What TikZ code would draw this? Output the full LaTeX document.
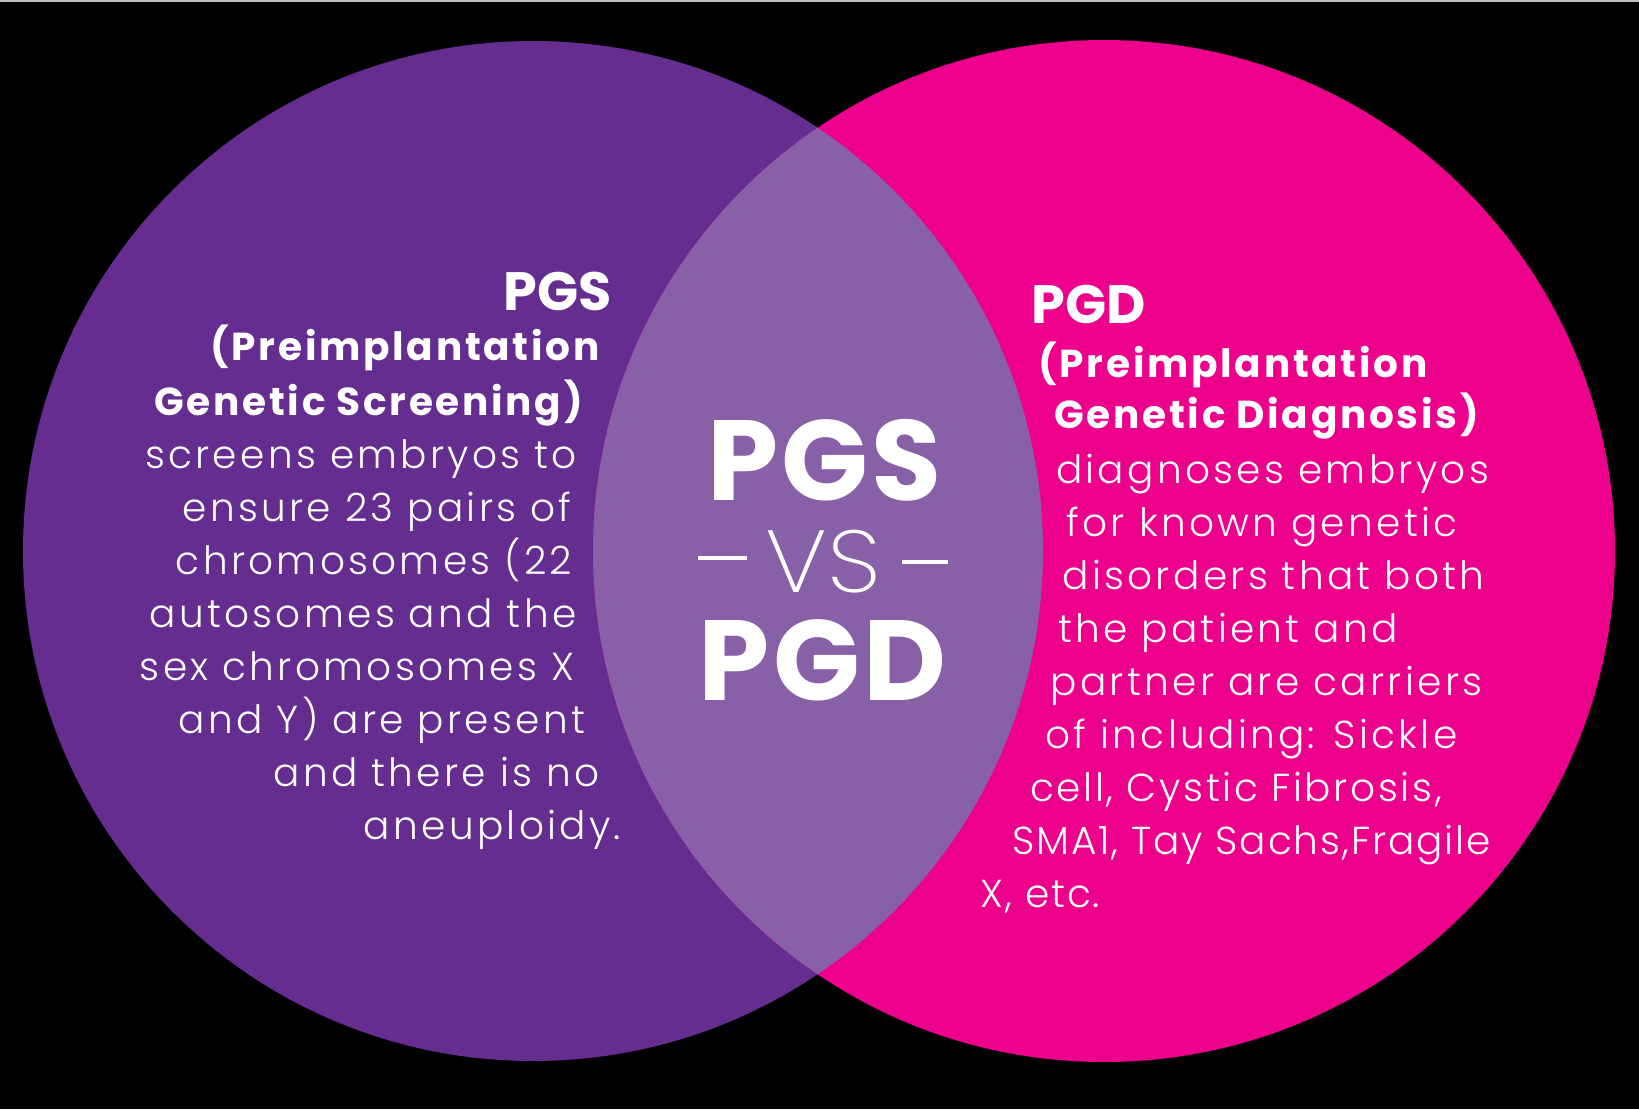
\documentclass[tikz,border=0pt]{standalone}
\usepackage{fontspec}
\setmainfont{Poppins}
\newfontfamily\bodyfont{Poppins Light}[LetterSpace=8.5]
\newfontfamily\tightfont{Poppins Light}[LetterSpace=5]
\newfontfamily\midfont{Poppins Light}[LetterSpace=6.8]
\newfontfamily\headfont{Poppins}[LetterSpace=7]
\newfontfamily\bigfont{Poppins}[LetterSpace=3]
\newfontfamily\vsfont{Poppins ExtraLight}[FakeStretch=1.1]
\definecolor{pgspurple}{HTML}{652D90}
\definecolor{pgdpink}{HTML}{EC008C}
\definecolor{overlapcol}{HTML}{8760A8}
\tikzset{
  bodytxt/.style={font=\bodyfont\fontsize{19.5}{22}\selectfont, text=white, inner sep=0pt, anchor=base},
  tighttxt/.style={font=\tightfont\fontsize{19.5}{22}\selectfont, text=white, inner sep=0pt, anchor=base},
  midtxt/.style={font=\midfont\fontsize{19.5}{22}\selectfont, text=white, inner sep=0pt, anchor=base},
  headtxt/.style={font=\headfont\bfseries\fontsize{19.5}{22}\selectfont, text=white, inner sep=0pt, anchor=base},
  titletxt/.style={font=\bfseries\fontsize{27}{30}\selectfont, text=white, inner sep=0pt, anchor=base},
  bigtxt/.style={font=\bigfont\bfseries\fontsize{57}{60}\selectfont, text=white, inner sep=0pt, anchor=base},
  vstxt/.style={font=\vsfont\fontsize{44}{46}\selectfont, text=white, inner sep=0pt, anchor=base},
  dashline/.style={white, line width=2pt}
}
\begin{document}
\begin{tikzpicture}[x=0.5pt, y=-0.5pt]
\useasboundingbox (0,0) rectangle (1639,1109);
\fill[black] (0,0) rectangle (1639,1109);
\draw[white!75!black, line width=1.5pt] (0,0.75) -- (1639,0.75);
% circles
\coordinate (cl) at (533,551);
\coordinate (cr) at (1104,551);
\fill[pgspurple] (cl) circle[radius=255pt];
\fill[pgdpink] (cr) circle[radius=255.5pt];
\begin{scope}
  \clip (cl) circle[radius=255pt];
  \fill[overlapcol] (cr) circle[radius=255.5pt];
\end{scope}
% left text
\node[titletxt] (lt) at (557.5,310) {PGS};
\node[headtxt] (l1) at (405,360) {(Preimplantation};
\node[headtxt] (l2) at (368.5,415) {Genetic Screening)};
\node[bodytxt] (l3) at (361,468) {screens embryos to};
\node[bodytxt] (l4) at (377,521) {ensure 23 pairs of};
\node[bodytxt] (l5) at (374,574) {chromosomes (22};
\node[bodytxt] (l6) at (363,627) {autosomes and the};
\node[bodytxt] (l7) at (357,680) {sex chromosomes X};
\node[bodytxt] (l8) at (382,733) {and Y) are present};
\node[bodytxt] (l9) at (436.5,786) {and there is no};
\node[bodytxt] (l10) at (492.5,839) {aneuploidy.};
% right text
\node[titletxt] (rt) at (1088.5,323) {PGD};
\node[headtxt] (r1) at (1233,377) {(Preimplantation};
\node[headtxt] (r2) at (1266.5,428) {Genetic Diagnosis)};
\node[bodytxt] (r3) at (1272.5,483) {diagnoses embryos};
\node[bodytxt] (r4) at (1262,536) {for known genetic};
\node[bodytxt] (r5) at (1273.5,589) {disorders that both};
\node[bodytxt] (r6) at (1228,642) {the patient and};
\node[bodytxt] (r7) at (1266.5,695) {partner are carriers};
\node[bodytxt] (r8) at (1251.5,748) {of including: Sickle};
\node[midtxt] (r9) at (1236,801) {cell, Cystic Fibrosis,};
\node[tighttxt] (r10) at (1251.5,854) {SMA1, Tay Sachs,Fragile};
\node[tighttxt] (r11) at (1040.5,907) {X, etc.};
% centre
\node[bigtxt] (cpgs) at (824.5,500) {PGS};
\node[vstxt] (cvs) at (823.5,592) {VS};
\node[bigtxt] (cpgd) at (822.5,700) {PGD};
\coordinate (dl1) at (698,558);
\coordinate (dl2) at (747,558);
\coordinate (dr1) at (902,562);
\coordinate (dr2) at (948,562);
\draw[dashline] (dl1) -- (dl2);
\draw[dashline] (dr1) -- (dr2);
\end{tikzpicture}
\end{document}
